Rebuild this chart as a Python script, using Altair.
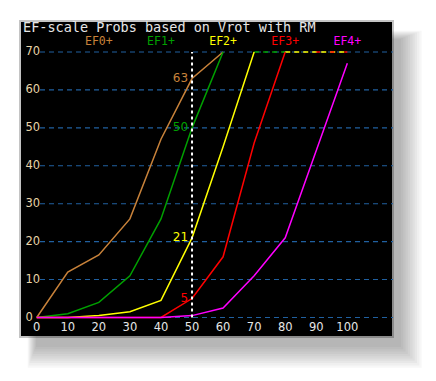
import altair as alt
import pandas as pd

# ---- data ----
x_vals = [0, 10, 20, 30, 40, 50, 60, 70, 80, 90, 100]
series_names = ["EF0+", "EF1+", "EF2+", "EF3+", "EF4+"]
ef0 = [0, 12, 16.5, 26, 47, 63, 70]
ef1 = [0, 1, 4, 11, 26, 50, 70]
ef2 = [0, 0, 0.5, 1.5, 4.5, 21, 45, 70]
ef3 = [0, 0, 0, 0, 0, 5, 16, 46, 70]
ef4 = [0, 0, 0, 0, 0, 0.5, 2.5, 11, 21, 44, 67]
series_values = [ef0, ef1, ef2, ef3, ef4]
colors = ["#c8823a", "#00a000", "#ffff00", "#ff0000", "#ff00ff"]
y_ticks = [0, 10, 20, 30, 40, 50, 60, 70]
x_ticks = [0, 10, 20, 30, 40, 50, 60, 70, 80, 90, 100]
marker_x = [50]
cap_series = ["EF1+", "EF2+", "EF3+"]
cap_start = [70, 80, 90]
cap_end = [80, 100, 100]
cap_level = [70, 70, 70]
title_text = "EF-scale Probs based on Vrot with RM"

rows = []
for name, vals in zip(series_names, series_values):
    for xv, yv in zip(x_vals, vals):
        rows.append({"series": name, "x": xv, "y": yv})
df = pd.DataFrame(rows)
grid_df = pd.DataFrame({"v": y_ticks})
xt_df = pd.DataFrame({"h": x_ticks})
marker_df = pd.DataFrame({"mx": marker_x, "y0": [y_ticks[0]], "y1": [y_ticks[-1]]})
cap_df = pd.DataFrame({"series": cap_series, "xs": cap_start, "xe": cap_end, "lv": cap_level})
legend_df = pd.DataFrame({"series": series_names})
title_df = pd.DataFrame({"t": [title_text]})

W, H = 373, 316
xscale = alt.Scale(domain=[-5.38, 114.7], nice=False, zero=False)
yscale = alt.Scale(domain=[-5.14, 78.17], nice=False, zero=False)
cscale = alt.Scale(domain=series_names, range=colors)

y_axis = alt.Axis(values=y_ticks, grid=False, domain=False, ticks=False, tickSize=0,
                  labelPadding=-5, labelAlign="left", labelColor="#e8d4a8", labelFont="DejaVu Sans",
                  labelFontSize=11.5, labelOverlap=False, title=None, zindex=1)


def X(field):
    return alt.X(field, scale=xscale, axis=None)


def Y(field):
    return alt.Y(field, scale=yscale, axis=y_axis)


one = pd.DataFrame({"a": [0]})
shadows = []
for i in range(10):
    r = 2.3 * i
    shadows.append(
        alt.Chart(one).mark_rect(color="black", opacity=0.03).encode(
            x=alt.value(16 - 0.4 * r), x2=alt.value(W + 8 + r),
            y=alt.value(18 - 0.4 * r), y2=alt.value(H + 10 + r)))

grid = alt.Chart(grid_df).mark_rule(color="#2060a0", strokeDash=[5, 4], strokeWidth=1.1).encode(
    y=Y("v:Q"), x=alt.value(20), x2=alt.value(W))

# x tick labels, placed through the x scale
xlabels = alt.Chart(xt_df).mark_text(baseline="top", font="DejaVu Sans", fontSize=11.5,
                                     color="#e6e6e6").encode(
    x=X("h:Q"), y=alt.value(H - 15), text=alt.Text("h:Q", format="d"))

caps = alt.Chart(cap_df).mark_rule(strokeWidth=1.6).encode(
    x=X("xs:Q"), x2="xe:Q", y=Y("lv:Q"),
    color=alt.Color("series:N", scale=cscale, legend=None),
    strokeDash=alt.StrokeDash("series:N", scale=alt.Scale(domain=cap_series, range=[[5, 4], [5, 4], [4, 10]]), legend=None))

lines = alt.Chart(df).mark_line(strokeWidth=1.5).encode(
    x=X("x:Q"), y=Y("y:Q"),
    color=alt.Color("series:N", scale=cscale, legend=None))

marker = alt.Chart(marker_df).mark_rule(color="white", strokeDash=[3, 3], strokeWidth=2).encode(
    x=X("mx:Q"), y=Y("y0:Q"), y2="y1:Q")

annot = alt.Chart(df).transform_filter(
    (alt.datum.x == marker_x[0]) & (alt.datum.series != series_names[-1])
).mark_text(align="right", baseline="middle", dx=-4, dy=-1, font="DejaVu Sans", fontSize=12).encode(
    x=X("x:Q"), y=Y("y:Q"),
    text=alt.Text("y:Q", format="d"),
    color=alt.Color("series:N", scale=cscale, legend=None))

legend = alt.Chart(legend_df).transform_window(idx="row_number()").transform_calculate(
    lx="datum.idx * 20"
).mark_text(font="DejaVu Sans Mono", fontSize=11.5, baseline="middle").encode(
    x=X("lx:Q"), y=alt.value(21),
    text="series:N",
    color=alt.Color("series:N", scale=cscale, legend=None))

title = alt.Chart(title_df).mark_text(align="left", baseline="top", font="DejaVu Sans Mono", fontSize=13.5,
                                      color="#e6e6e6").encode(
    x=alt.value(3), y=alt.value(0), text="t:N")

chart = alt.layer(*shadows, grid, xlabels, caps, lines, marker, annot, legend, title).properties(
    width=W, height=H,
    autosize=alt.AutoSizeParams(type="none"),
    padding={"left": 20, "top": 21, "right": 43, "bottom": 44},
    background="white",
).configure_view(fill="black", stroke="#c4c4c4", strokeWidth=2)

chart.save("out.html", embed_options={"renderer": "svg", "actions": False})
